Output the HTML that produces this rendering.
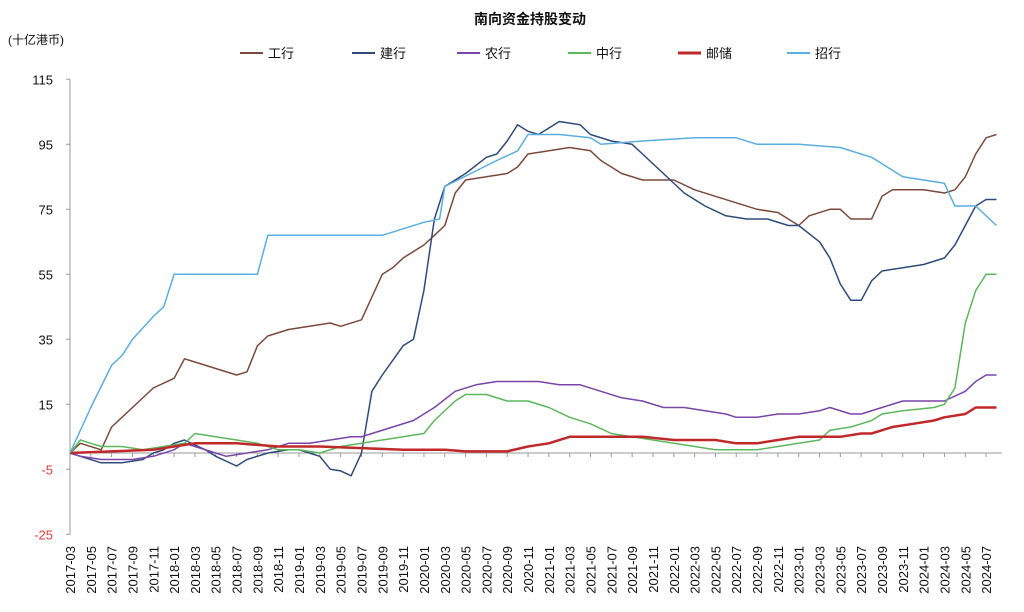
<!DOCTYPE html>
<html><head><meta charset="utf-8"><style>
body{margin:0;background:#fff;width:1024px;height:607px;overflow:hidden;font-family:"Liberation Sans","Noto Sans CJK SC",sans-serif}
</style></head><body>
<svg id="chart" width="1024" height="607" xmlns="http://www.w3.org/2000/svg" font-family="Liberation Sans, Noto Sans CJK SC, sans-serif">
<text x="530" y="24" text-anchor="middle" font-size="14" font-weight="bold" fill="#111">南向资金持股变动</text>
<text x="8" y="44" font-size="12" fill="#111">(十亿港币)</text>
<g id="legend"></g>
<g id="grid"></g>
<g id="series"></g>
</svg>
<script>
const yTicks=[115,95,75,55,35,15,-5,-25];
const xLabels=[];
for(let y=2017;y<=2024;y++)for(let m=1;m<=12;m+=2){const idx=(y-2017)*12+m-3;if(idx>=0&&idx<=88)xLabels.push(y+'-'+String(m).padStart(2,'0'));}
const seriesNames=['工行','建行','农行','中行','邮储','招行'];
const icbc=[[0,0],[1,3],[3,1],[4,8],[6,14],[8,20],[10,23],[11,29],[12,28],[14,26],[16,24],[17,25],[18,33],[19,36],[21,38],[23,39],[25,40],[26,39],[28,41],[29,48],[30,55],[31,57],[32,60],[33,62],[34,64],[35,67],[36,70],[37,80],[38,84],[40,85],[42,86],[43,88],[44,92],[46,93],[48,94],[50,93],[51,90],[53,86],[55,84],[58,84],[60,81],[62,79],[64,77],[66,75],[68,74],[69,72],[70,70],[71,73],[73,75],[74,75],[75,72],[77,72],[78,79],[79,81],[82,81],[84,80],[85,81],[86,85],[87,92],[88,97],[89,98]];
const ccb=[[0,0],[1,-1],[3,-3],[5,-3],[7,-2],[8,0],[9,1],[10,3],[11,4],[13,1],[14,-1],[16,-4],[17,-2],[19,0],[21,1],[22,1],[23,0],[24,-1],[25,-5],[26,-5.5],[27,-7],[28,0],[29,19],[30,24],[32,33],[33,35],[34,50],[35,72],[36,82],[38,86],[40,91],[41,92],[42,96],[43,101],[44,99],[45,98],[47,102],[49,101],[50,98],[52,96],[54,95],[55,92],[57,86],[59,80],[61,76],[63,73],[65,72],[67,72],[69,70],[70,70],[72,65],[73,60],[74,52],[75,47],[76,47],[77,53],[78,56],[80,57],[82,58],[84,60],[85,64],[86,70],[87,76],[88,78],[89,78]];
const abc=[[0,0],[1,-1],[3,-2],[6,-2],[8,-1],[10,1],[11,3],[12,2],[14,0],[15,-1],[17,0],[19,1],[21,3],[23,3],[25,4],[27,5],[28,5],[29,6],[31,8],[33,10],[35,14],[37,19],[39,21],[41,22],[43,22],[45,22],[47,21],[49,21],[51,19],[53,17],[55,16],[57,14],[59,14],[61,13],[63,12],[64,11],[66,11],[68,12],[70,12],[72,13],[73,14],[75,12],[76,12],[78,14],[80,16],[82,16],[84,16],[86,19],[87,22],[88,24],[89,24]];
const boc=[[0,0],[1,4],[2,3],[3,2],[5,2],[7,1],[9,2],[11,3],[12,6],[14,5],[16,4],[18,3],[20,1],[22,1],[24,0],[26,2],[28,3],[30,4],[32,5],[34,6],[35,10],[37,16],[38,18],[40,18],[42,16],[44,16],[46,14],[48,11],[50,9],[52,6],[54,5],[56,4],[58,3],[60,2],[62,1],[64,1],[66,1],[68,2],[70,3],[72,4],[73,7],[75,8],[76,9],[77,10],[78,12],[80,13],[83,14],[84,15],[85,20],[86,40],[87,50],[88,55],[89,55]];
const psbc=[[0,0],[4,0.5],[8,1],[10,2],[12,3],[14,3],[16,3],[18,2.5],[20,2],[24,2],[28,1.5],[32,1],[36,1],[38,0.5],[42,0.5],[44,2],[46,3],[48,5],[52,5],[55,5],[58,4],[62,4],[64,3],[66,3],[68,4],[70,5],[72,5],[74,5],[76,6],[77,6],[79,8],[81,9],[83,10],[84,11],[86,12],[87,14],[89,14]];
const cmb=[[0,0],[2,14],[4,27],[5,30],[6,35],[8,42],[9,45],[10,55],[12,55],[18,55],[19,67],[25,67],[30,67],[32,69],[34,71],[35.5,72],[36,82],[38.5,86],[41,90],[43,93],[44,98],[47,98],[50,97],[51,95],[55,96],[60,97],[64,97],[66,95],[70,95],[74,94],[77,91],[80,85],[84,83],[85,76],[87,76],[89,70]];
const colors=['#7b4a3c','#2f4b7c','#7a44a8','#5cb85c','#c0282a','#5aaee0'];
const widths=[1.5,1.5,1.5,1.5,2.5,1.5];
const allSeries=[icbc,ccb,abc,boc,psbc,cmb];
const seriesKeys=['icbc','ccb','abc','boc','psbc','cmb'];
const NS='http://www.w3.org/2000/svg';
const X0=70,PXM=10.41,Y0=453,PXU=3.25;
const xs=m=>X0+m*PXM, ys=v=>Y0-v*PXU;
const grid=document.getElementById('grid');
function mk(t,a,p){const e=document.createElementNS(NS,t);for(const k in a)e.setAttribute(k,a[k]);p.appendChild(e);return e;}
const yAxis=mk('line',{x1:X0,x2:X0,y1:ys(115),y2:ys(-25),stroke:'#999'},grid);


const xAxis=mk('line',{x1:X0,x2:xs(89.5),y1:Y0,y2:Y0,stroke:'#999'},grid);


yTicks.forEach(v=>{
 mk('line',{x1:X0-4,x2:X0,y1:ys(v),y2:ys(v),stroke:'#999'},grid);
 const t=mk('text',{x:53,y:ys(v)+5,'text-anchor':'end','font-size':13,fill:v<0?'#e0403a':'#111'},grid);
 t.textContent=v;
 
 
});
xLabels.forEach((l,i)=>{
 const m=i*2,x=xs(m);
 mk('line',{x1:x,x2:x,y1:Y0,y2:Y0+4,stroke:'#999'},grid);
 const t=mk('text',{x:0,y:0,'text-anchor':'end','font-size':13,fill:'#111',transform:`translate(${x+5},${546}) rotate(-90)`},grid);
 t.textContent=l;
 
 
});
const sg=document.getElementById('series');
allSeries.forEach((s,i)=>{
 const p=mk('polyline',{points:s.map(d=>xs(d[0]).toFixed(1)+','+ys(d[1]).toFixed(1)).join(' '),fill:'none',stroke:colors[i],'stroke-width':widths[i],'stroke-linejoin':'round'},sg);
 
 
});
const lg=document.getElementById('legend');
const lx=[240,352,457,568,678,787];
seriesNames.forEach((n,i)=>{
 const g=mk('g',{},lg);
 
 
 mk('line',{x1:lx[i],x2:lx[i]+23,y1:53,y2:53,stroke:colors[i],'stroke-width':widths[i]+0.5},g);
 const t=mk('text',{x:lx[i]+28,y:58,'font-size':13,fill:'#111'},g);
 t.textContent=n;
});
</script>
</body></html>
